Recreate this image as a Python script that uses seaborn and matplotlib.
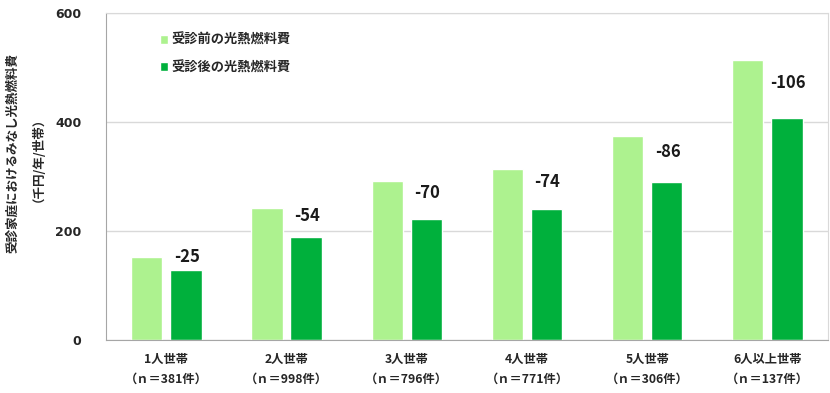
import matplotlib
matplotlib.use("Agg")
import matplotlib.pyplot as plt
import numpy as np
import pandas as pd
import seaborn as sns

# data
households = ['1人世帯', '2人世帯', '3人世帯', '4人世帯', '5人世帯', '6人以上世帯']
counts = [381, 998, 796, 771, 306, 137]
before = [153, 242, 292, 314, 375, 513]
after = [128, 188, 222, 240, 289, 407]
diff_labels = ['-25', '-54', '-70', '-74', '-86', '-106']
series = ['受診前の光熱燃料費', '受診後の光熱燃料費']

tick_labels = [f'{h}\n（ｎ＝{c}件）' for h, c in zip(households, counts)]

df = pd.DataFrame({
    'group': tick_labels * 2,
    'series': [series[0]] * len(before) + [series[1]] * len(after),
    'value': before + after,
})

sns.set_style('white')
plt.rcParams['font.family'] = ['Noto Sans CJK JP', 'DejaVu Sans']

fig = plt.figure(figsize=(8.3, 3.93), dpi=100)
ax = fig.add_axes([0.128, 0.135, 0.869, 0.832])

sns.barplot(data=df, x='group', y='value', hue='series', order=tick_labels,
            hue_order=series, palette=['#ADF28F', '#00B03C'],
            width=0.65, gap=0.2, saturation=1, errorbar=None, ax=ax)

ax.set_ylim(0, 600)
ax.set_xlim(-0.5, len(households) - 0.5)
ax.set_yticks([0, 200, 400, 600])
ax.yaxis.grid(True, color='#D9D9D9', linewidth=1)
ax.set_axisbelow(True)

# group boundary ticks on the x axis
ax.set_xticks(np.arange(len(households)))
ax.set_xticklabels(tick_labels, fontsize=8.8, fontweight='bold', linespacing=1.75)
ax.set_xticks(np.arange(len(households) + 1) - 0.5, minor=True)
ax.tick_params(axis='x', which='major', length=0, pad=9)
ax.tick_params(axis='x', which='minor', length=4, color='#A6A6A6', direction='out')
ax.tick_params(axis='y', length=4, color='#A6A6A6', direction='out', pad=14)
for t in ax.get_yticklabels():
    t.set_fontfamily('DejaVu Sans')
    t.set_fontweight('bold')
    t.set_fontsize(9)

for side in ['left', 'bottom']:
    ax.spines[side].set_color('#A6A6A6')
for side in ['top', 'right']:
    ax.spines[side].set_color('#D9D9D9')

ax.set_xlabel('')
ax.set_ylabel('受診家庭におけるみなし光熱燃料費\n（千円/年/世帯）', fontsize=9,
              fontweight='bold', linespacing=1.6)
ax.yaxis.set_label_coords(-0.094, 0.572)

# difference labels above the after-bars
for i, (b, a, lab) in enumerate(zip(before, after, diff_labels)):
    ax.text(i + 0.17, (a + b) / 2 + 12, lab, ha='center', va='center',
            fontsize=12, fontweight='bold', color='#1a1a1a')

leg = ax.legend(loc='upper left', bbox_to_anchor=(0.058, 0.975), frameon=False,
                handlelength=0.6, handleheight=0.6, handletextpad=0.3,
                labelspacing=1.0, prop={'size': 9.5, 'weight': 'bold'})

fig.savefig('out.png', dpi=100)
